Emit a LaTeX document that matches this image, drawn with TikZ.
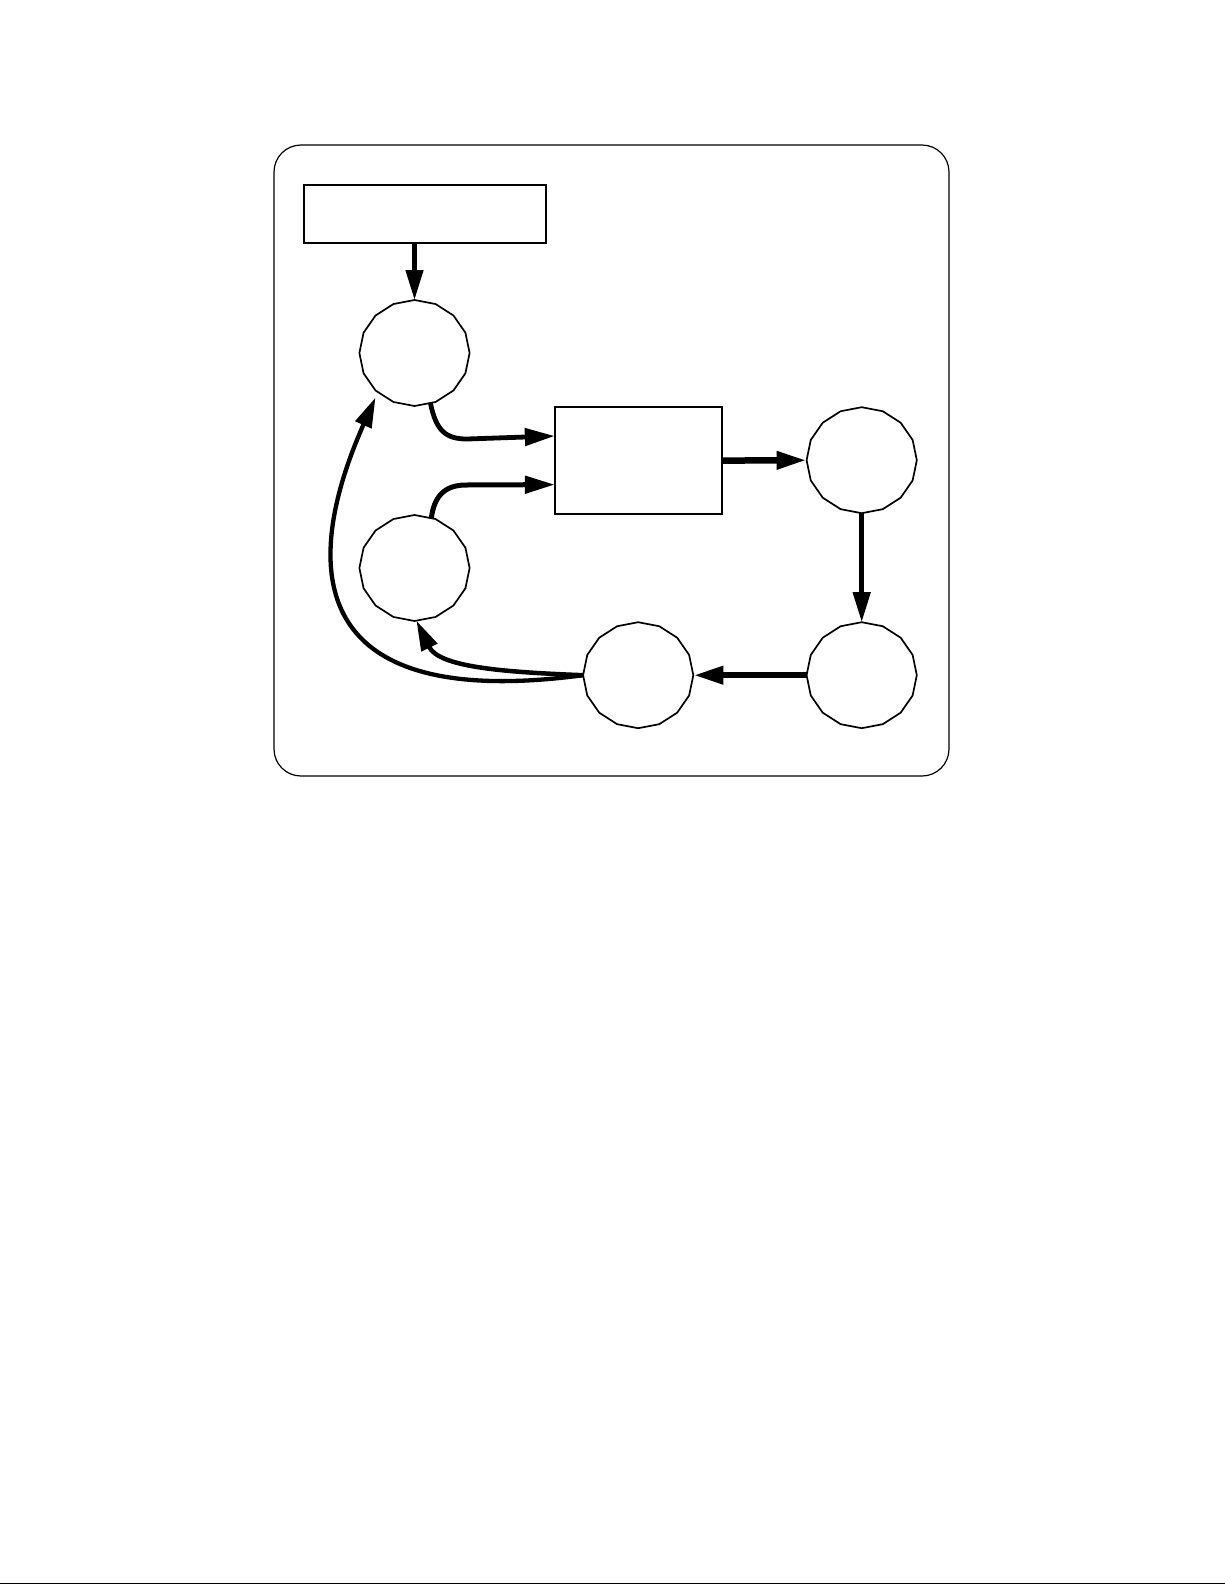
\documentclass[tikz,border=0pt]{standalone}
\usetikzlibrary{shapes.geometric,arrows.meta}
\tikzset{
  poly/.style={draw, line width=1.7pt, regular polygon, regular polygon sides=16,
    shape border rotate=11.25, minimum size=106pt, inner sep=0pt, outer sep=0pt, xscale=1.04},
  boxA/.style={draw, line width=2pt, minimum width=242.5pt, minimum height=57.5pt, inner sep=0pt, outer sep=0pt},
  boxB/.style={draw, line width=1.7pt, minimum width=167.3pt, minimum height=107pt, inner sep=0pt, outer sep=0pt},
  arr/.style={-{Triangle[length=30pt,width=17pt]}, line join=miter},
}
\begin{document}
\begin{tikzpicture}[x=1pt,y=-1pt]
\useasboundingbox (0,0) rectangle (1225,1585);
% outer frame
\draw[line width=1.2pt, rounded corners=27pt] (274,145) rectangle (949,776);
% bottom rule
\draw[line width=1.5pt] (0,1583.5) -- (1225,1583.5);
% nodes
\node[boxA] (top) at (425,214.2) {};
\node[boxB] (box) at (638.5,460.6) {};
\node[poly] (c1) at (414.5,353) {};
\node[poly] (c2) at (414.5,568) {};
\node[poly] (c3) at (861.7,460.2) {};
\node[poly] (c4) at (861.7,675.2) {};
\node[poly] (c5) at (638.2,675.2) {};
% connectors
\draw[arr, line width=4.6pt] (c1.north |- top.south) -- (c1.90);
\draw[arr, line width=4.8pt] (c1.-73) .. controls (436,430) and (445,439) .. (467,439) -- ([yshift=24.6pt]box.west);
\draw[arr, line width=5pt] (c2.72) .. controls (434,497) and (444,485) .. (466,485) -- ([yshift=-24pt]box.west);
\draw[arr, line width=6.5pt] (box.east) -- (c3.180);
\draw[arr, line width=4.5pt] (c3.-90) -- (c4.90);
\draw[arr, line width=6.5pt] (c4.180) -- (c5.0);
\draw[arr, line width=4.5pt] (c5.180) .. controls (500,672) and (438.7,666.7) .. (c2.-88);
\draw[arr, line width=4.3pt, shorten >=6pt] (c5.180) .. controls (285,715) and (310,545) .. (c1.-132);
\end{tikzpicture}
\end{document}
